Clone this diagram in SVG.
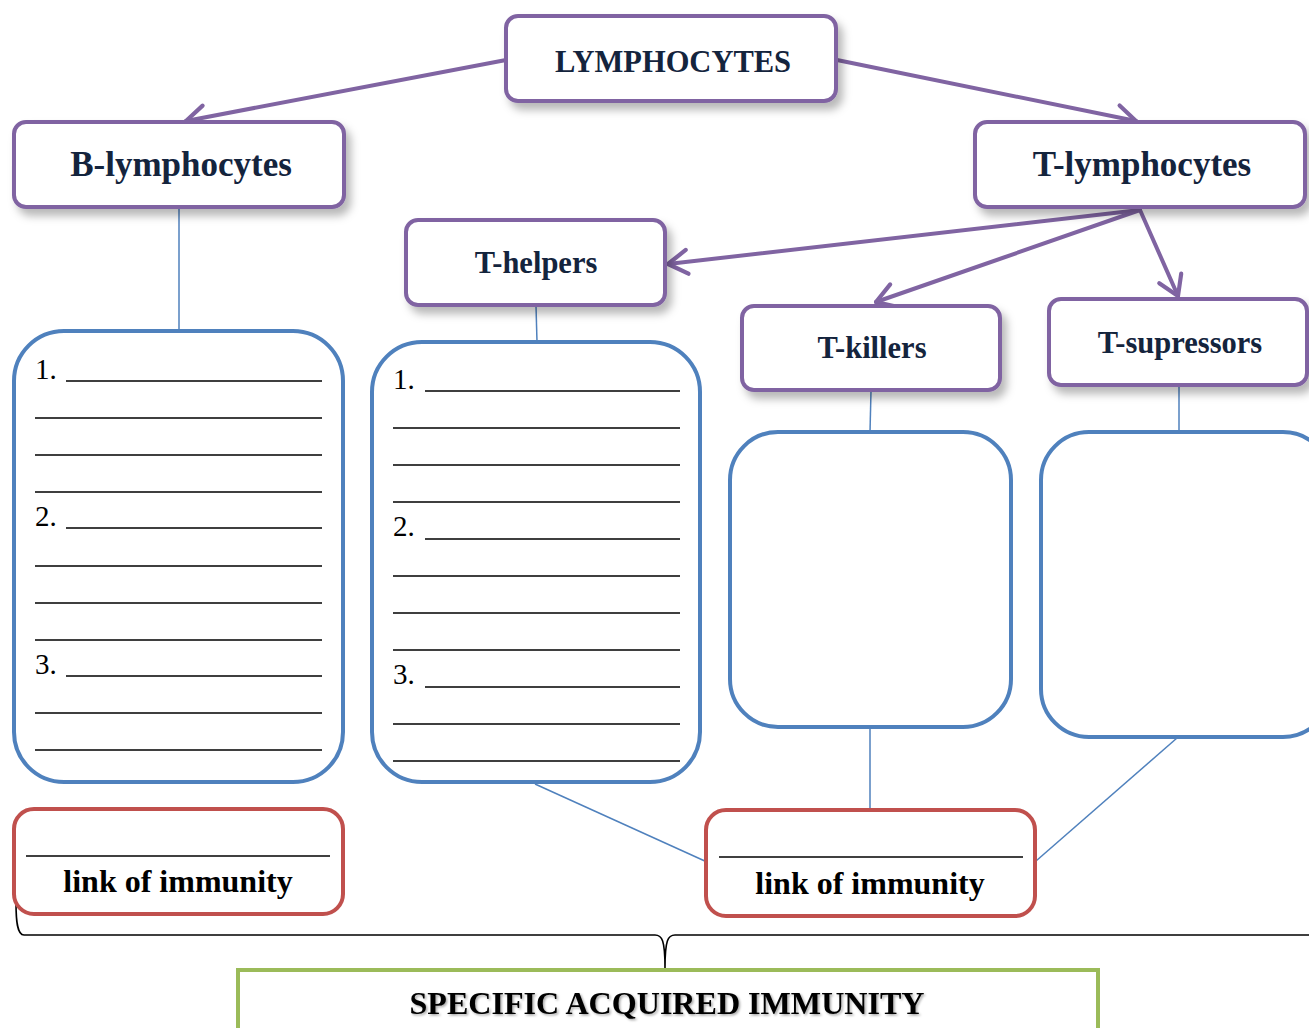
<svg xmlns="http://www.w3.org/2000/svg" width="1309" height="1028" viewBox="0 0 1309 1028">
  <style>
    .cat { fill: #ffffff; stroke: #8064a2; stroke-width: 4; }
    .list { fill: #ffffff; stroke: #4f81bd; stroke-width: 4; }
    .link { fill: #ffffff; stroke: #c0504d; stroke-width: 4; }
    .total { fill: #ffffff; stroke: #9bbb59; stroke-width: 4; }
    .title { font-family: "Liberation Serif", "DejaVu Serif", serif; font-weight: bold; fill: #14243d; text-anchor: middle; }
    .num { font-family: "Liberation Serif", "DejaVu Serif", serif; font-size: 29px; fill: #000000; }
    .lbl { font-family: "Liberation Serif", "DejaVu Serif", serif; font-weight: bold; font-size: 32px; fill: #000000; text-anchor: middle; }
    .rule { stroke: #000000; stroke-width: 1.4; }
    .arrow { fill: none; stroke: #8064a2; stroke-width: 4; stroke-linecap: round; }
    .tie { fill: none; stroke: #4f81bd; stroke-width: 1.5; }
    .brace { fill: none; stroke: #000000; stroke-width: 1.6; }
  </style>
  <defs>
    <filter id="shade" x="-10%" y="-20%" width="130%" height="160%">
      <feDropShadow dx="5" dy="7" stdDeviation="4" flood-color="#000000" flood-opacity="0.28"/>
    </filter>
    <filter id="tshade" x="-5%" y="-20%" width="110%" height="150%">
      <feDropShadow dx="1.5" dy="1.5" stdDeviation="1" flood-color="#000000" flood-opacity="0.35"/>
    </filter>
    <marker id="chev" viewBox="0 0 20 20" refX="16" refY="10" markerWidth="8" markerHeight="8" markerUnits="strokeWidth" orient="auto">
      <path d="M4,2.5 L16,10 L4,17.5" fill="none" stroke="#8064a2" stroke-width="2.6" stroke-linecap="round" stroke-linejoin="round"/>
    </marker>
  </defs>

  <!-- connectors -->
  <g id="connectors">
    <path class="arrow" d="M506,60 L186,121" marker-end="url(#chev)"/>
    <path class="arrow" d="M837,60 L1136,121" marker-end="url(#chev)"/>
    <path class="arrow" d="M1140,210 L668,264" marker-end="url(#chev)"/>
    <path class="arrow" d="M1140,210 L876,302" marker-end="url(#chev)"/>
    <path class="arrow" d="M1140,210 L1178,296" marker-end="url(#chev)"/>
    <path class="tie" d="M179,208 L179,331"/>
    <path class="tie" d="M536,306 L537,342"/>
    <path class="tie" d="M871,391 L870,432"/>
    <path class="tie" d="M1179,386 L1179,432"/>
    <path class="tie" d="M870,727 L870,810"/>
    <path class="tie" d="M535,784 L707,862"/>
    <path class="tie" d="M1177,738 L1036,861"/>
    <path class="brace" d="M16,903 C16,920 17,935 24,935 L655,935 C662,935 665,940 665,968 C665,940 668,935 675,935 L1309,935"/>
  </g>

  <!-- purple category boxes -->
  <g id="lymphocytes">
    <rect class="cat" x="506" y="16" width="330" height="85" rx="12" filter="url(#shade)"/>
    <text class="title" x="673" y="72" font-size="30.5">LYMPHOCYTES</text>
  </g>
  <g id="b-lymphocytes">
    <rect class="cat" x="14" y="122" width="330" height="85" rx="12" filter="url(#shade)"/>
    <text class="title" x="181" y="176" font-size="35">B-lymphocytes</text>
  </g>
  <g id="t-lymphocytes">
    <rect class="cat" x="975" y="122" width="330" height="85" rx="12" filter="url(#shade)"/>
    <text class="title" x="1142" y="176" font-size="35">T-lymphocytes</text>
  </g>
  <g id="t-helpers">
    <rect class="cat" x="406" y="220" width="259" height="85" rx="12" filter="url(#shade)"/>
    <text class="title" x="536" y="273" font-size="30.5">T-helpers</text>
  </g>
  <g id="t-killers">
    <rect class="cat" x="742" y="306" width="258" height="84" rx="12" filter="url(#shade)"/>
    <text class="title" x="872" y="358" font-size="30.5">T-killers</text>
  </g>
  <g id="t-supressors">
    <rect class="cat" x="1049" y="299" width="258" height="86" rx="12" filter="url(#shade)"/>
    <text class="title" x="1180" y="353" font-size="30.5">T-supressors</text>
  </g>

  <!-- blue answer boxes -->
  <g id="b-functions">
    <rect class="list" x="14" y="331" width="329" height="451" rx="50"/>
    <text class="num" x="35" y="379">1.</text>
    <text class="num" x="35" y="526">2.</text>
    <text class="num" x="35" y="674">3.</text>
    <path class="rule" d="M66,381 H322 M35,418 H322 M35,455 H322 M35,492 H322 M66,528 H322 M35,566 H322 M35,603 H322 M35,640 H322 M66,676 H322 M35,713 H322 M35,750 H322"/>
  </g>
  <g id="t-helper-functions">
    <rect class="list" x="372" y="342" width="328" height="440" rx="50"/>
    <text class="num" x="393" y="389">1.</text>
    <text class="num" x="393" y="536">2.</text>
    <text class="num" x="393" y="684">3.</text>
    <path class="rule" d="M425,391 H680 M393,428 H680 M393,465 H680 M393,502 H680 M425,539 H680 M393,576 H680 M393,613 H680 M393,650 H680 M425,687 H680 M393,724 H680 M393,761 H680"/>
  </g>
  <g id="t-killer-functions">
    <rect class="list" x="730" y="432" width="281" height="295" rx="48"/>
  </g>
  <g id="t-supressor-functions">
    <rect class="list" x="1041" y="432" width="290" height="305" rx="48"/>
  </g>

  <!-- red link boxes -->
  <g id="humoral-link">
    <rect class="link" x="14" y="809" width="329" height="105" rx="20"/>
    <path class="rule" d="M26,856 H330"/>
    <text class="lbl" x="178" y="892">link of immunity</text>
  </g>
  <g id="cellular-link">
    <rect class="link" x="706" y="810" width="329" height="106" rx="20"/>
    <path class="rule" d="M719,857 H1023"/>
    <text class="lbl" x="870" y="894">link of immunity</text>
  </g>

  <!-- green summary box -->
  <g id="specific-immunity">
    <rect class="total" x="238" y="970" width="860" height="80"/>
    <text class="title" x="667" y="1014" font-size="32" style="fill:#000000" textLength="515" lengthAdjust="spacingAndGlyphs" filter="url(#tshade)">SPECIFIC ACQUIRED IMMUNITY</text>
  </g>
</svg>
